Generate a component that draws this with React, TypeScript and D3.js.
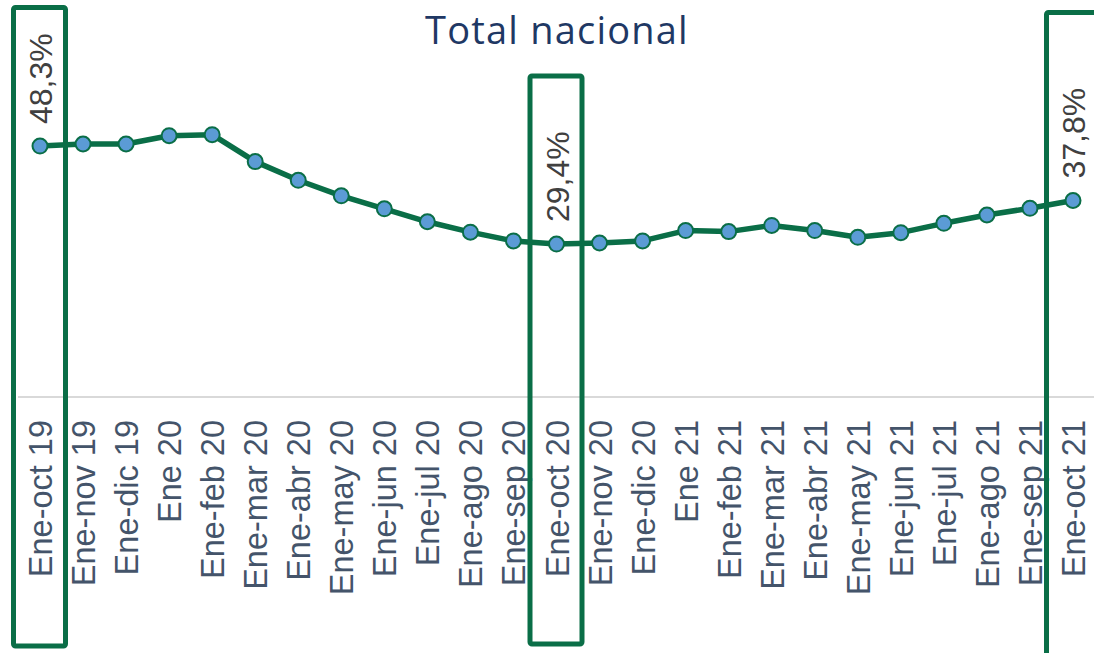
import React from "react";
import * as d3 from "d3";

const categories = [
  "Ene-oct 19", "Ene-nov 19", "Ene-dic 19", "Ene 20", "Ene-feb 20", "Ene-mar 20",
  "Ene-abr 20", "Ene-may 20", "Ene-jun 20", "Ene-jul 20", "Ene-ago 20", "Ene-sep 20",
  "Ene-oct 20", "Ene-nov 20", "Ene-dic 20", "Ene 21", "Ene-feb 21", "Ene-mar 21",
  "Ene-abr 21", "Ene-may 21", "Ene-jun 21", "Ene-jul 21", "Ene-ago 21", "Ene-sep 21",
  "Ene-oct 21",
];
const values = [
  48.3, 48.7, 48.7, 50.3, 50.5, 45.3, 41.7, 38.7, 36.2, 33.7, 31.7, 30.0,
  29.4, 29.6, 30.0, 32.0, 31.8, 33.0, 32.0, 30.7, 31.6, 33.4, 35.0, 36.3, 37.8,
];
const highlighted = [0, 12, 24];
const title = "Total nacional";

const W = 1094;
const H = 653;
const GREEN = "#0A6E47";

export default function App() {
  const x = d3.scalePoint<string>().domain(categories).range([40, 1073]);
  const y = d3.scaleLinear().domain([0, 60]).range([396.5, 85.4]);
  const line = d3
    .line<number>()
    .x((_, i) => x(categories[i]) as number)
    .y((d) => y(d));
  const fmt = (v: number) => v.toFixed(1).replace(".", ",") + "%";

  const boxes = [
    { i: 0, top: 7.5, bottom: 646 },
    { i: 12, top: 76, bottom: 644 },
    { i: 24, top: 12.5, bottom: 665 },
  ];

  return (
    <svg
      width={W}
      height={H}
      style={{ position: "absolute", left: 0, top: 0, background: "#fff" }}
      fontFamily="'Liberation Sans', Arial, sans-serif"
    >
      <text
        x={557}
        y={44}
        textAnchor="middle"
        fontFamily="'Open Sans', sans-serif"
        fontSize={38}
        fontWeight={500}
        fill="#1F3864"
        letterSpacing={1.2}
      >
        {title}
      </text>
      <line x1={18} x2={W} y1={397} y2={397} stroke="#D9D9D9" strokeWidth={2} />
      <path d={line(values) || ""} fill="none" stroke={GREEN} strokeWidth={5.5} strokeLinejoin="round" />
      {values.map((v, i) => (
        <circle
          key={i}
          cx={x(categories[i])}
          cy={y(v)}
          r={7.5}
          fill="#5B9BD5"
          stroke={GREEN}
          strokeWidth={2}
        />
      ))}
      {categories.map((c) => (
        <text
          key={c}
          transform={`translate(${(x(c) as number) + 12},420) rotate(-90)`}
          textAnchor="end"
          fontSize={32.5}
          fill="#44546A"
        >
          {c}
        </text>
      ))}
      {highlighted.map((i) => (
        <text
          key={"l" + i}
          transform={`translate(${(x(categories[i]) as number) + 12},${y(values[i]) - 22}) rotate(-90)`}
          textAnchor="start"
          fontSize={32}
          fill="#404040"
        >
          {fmt(values[i])}
        </text>
      ))}
      {boxes.map((b) => {
        const cx = x(categories[b.i]) as number;
        return (
          <rect
            key={"b" + b.i}
            x={cx - 26.5}
            y={b.top}
            width={52}
            height={b.bottom - b.top}
            rx={2}
            fill="none"
            stroke={GREEN}
            strokeWidth={5}
          />
        );
      })}
    </svg>
  );
}
